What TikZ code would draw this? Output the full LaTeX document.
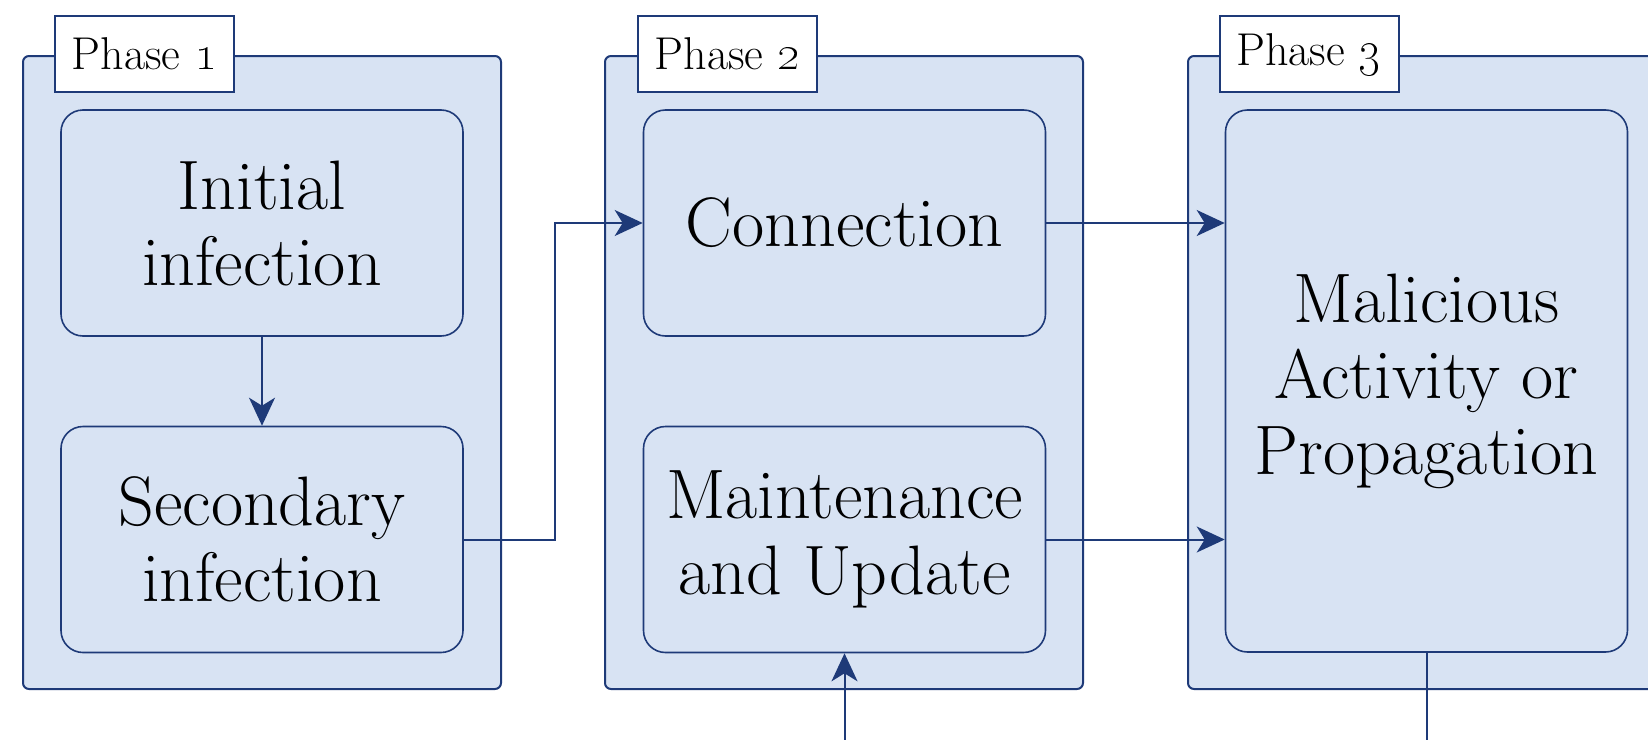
\documentclass[tikz,border=0pt]{standalone}
\usetikzlibrary{arrows.meta,calc}
\definecolor{boxfill}{RGB}{216,227,243}
\definecolor{boxline}{RGB}{30,58,120}
\begin{document}
\begin{tikzpicture}[x=0.5pt,y=-0.5pt,
  phasebox/.style={draw=boxline,fill=boxfill,line width=1pt,rounded corners=3pt,
    minimum width=239pt,minimum height=316.5pt,inner sep=0pt},
  plabel/.style={draw=boxline,fill=white,line width=1pt,minimum width=89.5pt,
    minimum height=38pt,inner sep=0pt,font=\fontsize{23}{25}\selectfont},
  stepbox/.style={draw=boxline,fill=boxfill,line width=0.8pt,rounded corners=11pt,
    minimum width=201pt,minimum height=113pt,inner sep=0pt,align=center,
    font=\fontsize{35}{38}\selectfont},
  conn/.style={draw=boxline,line width=1pt,-{Stealth[length=14pt,width=13pt,inset=4pt]}},
  plain/.style={draw=boxline,line width=1pt}]
\useasboundingbox (0,0) rectangle (1648,739);
\clip (0,0) rectangle (1648,739);
% phases
\node[phasebox] (ph1) at (262,372.5) {};
\node[phasebox] (ph2) at (844,372.5) {};
\node[phasebox] (ph3) at (1427,372.5) {};
\node[plabel] (l1) at (144.5,54) {Phase \oldstylenums{1}};
\node[plabel] (l2) at (727.5,54) {Phase \oldstylenums{2}};
\node[plabel] (l3) at (1309,54) {Phase \oldstylenums{3}};
% steps
\node[stepbox] (ini) at (262,223) {Initial\\infection};
\node[stepbox] (sec) at (262,539.5) {Secondary\\infection};
\node[stepbox] (con) at (844.5,223) {Connection};
\node[stepbox] (mnt) at (844.5,539.5) {Maintenance\\and Update};
\node[stepbox,minimum height=271pt] (mal) at (1426.5,381) {Malicious\\Activity or\\Propagation};
% connectors
\coordinate (bin) at (844.5,760);
\coordinate (bout) at (1426.5,760);
\draw[conn] (ini.south) -- (sec.north);
\draw[conn] (sec.east) -- ++(91,0) |- (con.west);
\draw[conn] (con.east) -- (con.east -| mal.west);
\draw[conn] (mnt.east) -- (mnt.east -| mal.west);
\draw[conn] (bin) -- (mnt.south);
\draw[plain] (mal.south) -- (bout);
\end{tikzpicture}
\end{document}
